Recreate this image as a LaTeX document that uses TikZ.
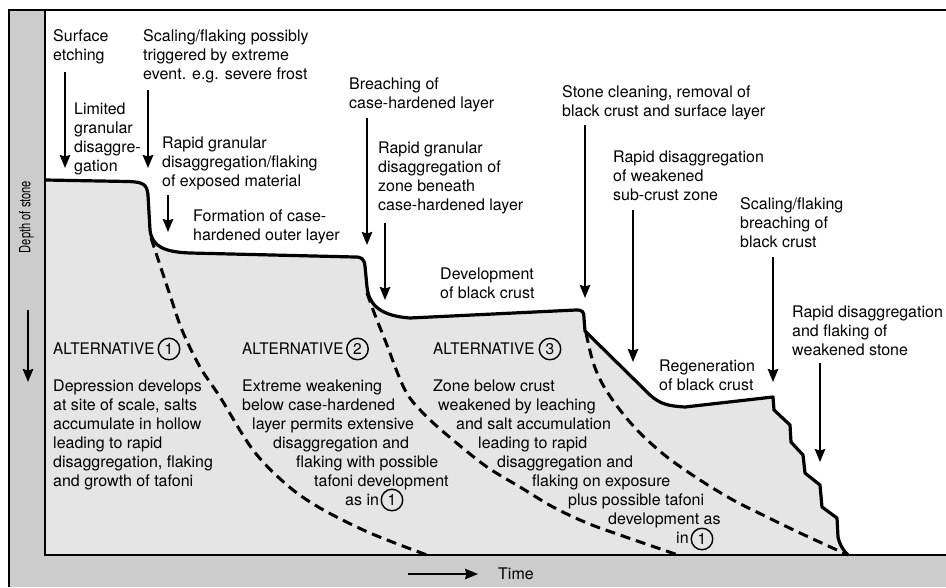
\documentclass[tikz,border=0pt]{standalone}
\usepackage{fontspec}
\setmainfont{TeX Gyre Heros}
\usepackage{graphicx}
\usetikzlibrary{arrows.meta}
\definecolor{framegray}{RGB}{204,204,204}
\definecolor{stonegray}{RGB}{229,229,229}
\newcommand{\profilepath}{(45,180) -- (128,181.5) .. controls (143,182) and (147,184) .. (148,195) -- (150,230) .. controls (152,247) and (165,252) .. (190,253) -- (355,257) .. controls (362,257) and (364,259) .. (365,266) -- (367,287) .. controls (369,306) and (382,316) .. (410,318) -- (576,310) .. controls (583,310) and (584,312) .. (584,318) -- (585,331) -- (650,395) .. controls (660,404) and (668,406) .. (685,407) -- (773,397) -- (774,410) -- (790,425) -- (791,442) -- (803,455) -- (805,473) -- (820,485) -- (822,507) -- (837,518) -- (838,537) .. controls (840,546) and (844,551) .. (848,555)}
\newcommand{\altword}{\scalebox{0.955}[1]{ALTERNATIVE}}
\begin{document}
\begin{tikzpicture}[x=1pt,y=-1pt,
  lbl/.style={anchor=north west, inner sep=0pt, align=left, font=\fontsize{16}{19}\selectfont},
  arr/.style={line width=1.9pt, -{Stealth[length=13pt,width=10.5pt,inset=1.5pt]}},
  profile/.style={line width=3.2pt, line join=round},
  altline/.style={line width=3pt, dash pattern=on 10pt off 6pt},
  circnum/.style={circle, draw, line width=1.4pt, minimum size=21.5pt, inner sep=0pt, font=\fontsize{15.5}{15.5}\selectfont},
]
\useasboundingbox (0,0) rectangle (946,587);
% frame
\fill[framegray] (9,10) rectangle (946,587);
\fill[white] (45,10) rectangle (946,555);
\fill[stonegray] \profilepath -- (45,555) -- cycle;
% alternative (dashed) profiles
\draw[altline] plot[smooth, tension=0.55] coordinates {(151,238) (160,265) (170,295) (182,330) (200,367) (220,397) (253,450) (287,485) (320,508) (370,533) (427,555)};
\draw[altline] plot[smooth, tension=0.55] coordinates {(367,293) (375,315) (385,340) (405,390) (425,415) (453,440) (487,467) (520,487) (553,507) (587,523) (620,535) (678,555)};
\draw[altline] plot[smooth, tension=0.55] coordinates {(586,333) (593,362) (603,385) (620,410) (640,433) (667,457) (700,480) (733,500) (767,517) (800,533) (848,555)};
% actual profile
\draw[profile] \profilepath;
% axes and frame lines
\draw[line width=1.5pt] (9,587) -- (9,10);
\draw[line width=2pt] (8.25,10) -- (946,10);
\draw[line width=1.8pt] (45,10) -- (45,555) -- (946,555);
% arrows
\draw[arr] (65,72) coordinate (a1s) -- (65,168) coordinate (a1e);
\draw[arr] (148,90) coordinate (a2s) -- (148,168) coordinate (a2e);
\draw[arr] (168,195) coordinate (a3s) -- (168,232) coordinate (a3e);
\draw[arr] (367,118) coordinate (a4s) -- (367,245) coordinate (a4e);
\draw[arr] (385,223) coordinate (a5s) -- (385,300) coordinate (a5e);
\draw[arr] (585,125) coordinate (a6s) -- (585,298) coordinate (a6e);
\draw[arr] (633,210) coordinate (a7s) -- (633,362) coordinate (a7e);
\draw[arr] (773,257) coordinate (a8s) -- (773,382) coordinate (a8e);
\draw[arr] (820,363) coordinate (a9s) -- (820,462) coordinate (a9e);
\draw[arr] (28,310) coordinate (ds) -- (28,382) coordinate (de);
\draw[arr] (408,574) coordinate (ts) -- (478,574) coordinate (te);
% axis labels
\node[rotate=90, inner sep=0pt, font=\fontsize{15.5}{17}\selectfont] (depth) at (26.5,217) {\scalebox{0.72}[1]{Depth of stone}};
\node[anchor=west, inner sep=0pt, font=\fontsize{16}{19}\selectfont] (time) at (498,574) {Time};
% process labels
\node[lbl] (surf) at (53,29) {Surface\\etching};
\node[lbl] (scal) at (143,29) {Scaling/flaking possibly\\triggered by extreme\\event. e.g. severe frost};
\node[lbl] (lim) at (74,103) {Limited\\granular\\disaggre-\\gation};
\node[lbl] (rgd) at (162,137) {Rapid granular\\disaggregation/flaking\\of exposed material};
\node[lbl] (form) at (193,210) {Formation of case-\\hardened outer layer};
\node[lbl] (breach) at (349,78) {Breaching of\\case-hardened layer};
\node[lbl] (rgz) at (378,142) {Rapid granular\\disaggregation of\\zone beneath\\case-hardened layer};
\node[lbl] (dev) at (440,268) {Development\\of black crust};
\node[lbl] (clean) at (562,85) {Stone cleaning, removal of\\black crust and surface layer};
\node[lbl] (rdw) at (613,151) {Rapid disaggregation\\of weakened\\sub-crust zone};
\node[lbl] (sfb) at (740,197) {Scaling/flaking\\breaching of\\black crust};
\node[lbl] (rdf) at (792,306) {Rapid disaggregation\\and flaking of\\weakened stone};
\node[lbl] (regen) at (659,360) {Regeneration\\of black crust};
% alternatives
\node[lbl] (alt1) at (53,343) {\altword};
\node[circnum] (c1) at (169,349) {1};
\node[lbl] (alt2) at (242,343) {\altword};
\node[circnum] (c2) at (357.5,349) {2};
\node[lbl] (alt3) at (433,343) {\altword};
\node[circnum] (c3) at (550,349) {3};
\node[lbl] (b1) at (53,380) {Depression develops\\at site of scale, salts\\accumulate in hollow\\leading to rapid\\disaggregation, flaking\\and growth of tafoni};
\node[lbl] (b2) at (242,380) {Extreme weakening\\below case-hardened\\\hspace*{10pt}layer permits extensive\\\hspace*{31pt}disaggregation and\\\hspace*{54pt}flaking with possible\\\hspace*{72pt}tafoni development\\\hspace*{103pt}as in};
\node[circnum] (c2b) at (392,500) {1};
\node[lbl] (b3) at (433,380) {Zone below crust\\\hspace*{5pt}weakened by leaching\\\hspace*{23pt}and salt accumulation\\\hspace*{45pt}leading to rapid\\\hspace*{64pt}disaggregation and\\\hspace*{99pt}flaking on exposure\\\hspace*{135pt}plus possible tafoni\\\hspace*{175pt}development as\\\hspace*{243pt}in};
\node[circnum] (c3b) at (702,539) {1};
\end{tikzpicture}
\end{document}
